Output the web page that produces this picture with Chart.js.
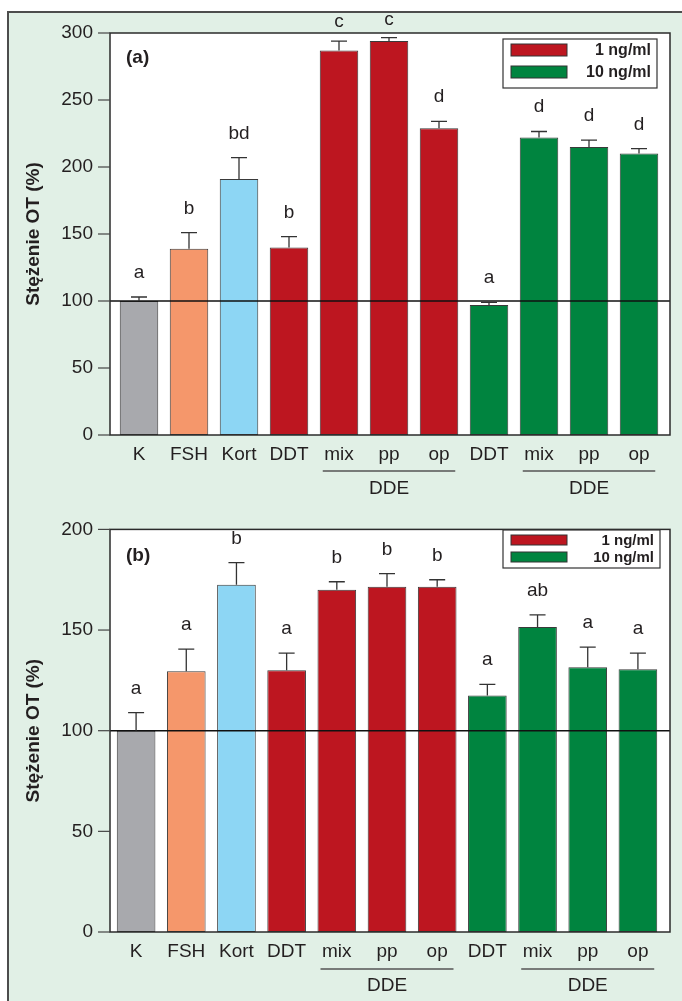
<!DOCTYPE html>
<html>
<head>
<meta charset="utf-8">
<script src="https://cdn.jsdelivr.net/npm/chart.js@4"></script>
<style>
  html, body { margin: 0; padding: 0; background: #ffffff; }
  #page { position: relative; width: 682px; height: 1001px; overflow: hidden; }
  #panelBg { position: absolute; left: 7px; top: 11px; right: -4px; bottom: -4px;
             background: #E1F0E6; border-left: 2px solid #4d4d4d; border-top: 2px solid #4d4d4d; }
  canvas { position: absolute; left: 0; }
  #chartA { top: 0; }
  #chartB { top: 500px; }
</style>
</head>
<body>
<div id="page">
  <div id="panelBg"></div>
  <canvas id="chartA" width="682" height="500"></canvas>
  <canvas id="chartB" width="682" height="501"></canvas>
</div>
<script>
// Treatments on the x axis
const categories = ['K', 'FSH', 'Kort', 'DDT', 'mix', 'pp', 'op', 'DDT', 'mix', 'pp', 'op'];
// Colour group of each treatment: control, FSH, cortisol, 1 ng/ml, 10 ng/ml
const barGroups = ['ctrl', 'fsh', 'kort', 'low', 'low', 'low', 'low', 'high', 'high', 'high', 'high'];
const legendLabels = ['1 ng/ml', '10 ng/ml'];
const groupLabel = 'DDE';
const yTitle = 'Stężenie OT (%)';

// Panel (a)
const valuesA = [100, 139, 191, 140, 287, 294, 229, 97, 222, 215, 210];
const errorsA = [3, 12, 16, 8, 7, 2.5, 5, 2, 4.5, 5, 3.7];
const lettersA = ['a', 'b', 'bd', 'b', 'c', 'c', 'd', 'a', 'd', 'd', 'd'];
const ticksA = [0, 50, 100, 150, 200, 250, 300];

// Panel (b)
const valuesB = [100, 129.5, 172.5, 130, 170, 171.5, 171.5, 117.5, 151.5, 131.5, 130.5];
const errorsB = [9, 11, 11, 8.5, 4, 6.5, 3.5, 5.5, 6, 10, 8];
const lettersB = ['a', 'a', 'b', 'a', 'b', 'b', 'b', 'a', 'ab', 'a', 'a'];
const ticksB = [0, 50, 100, 150, 200];

const referenceLevel = 100;

const palette = {
  ctrl: '#A8A9AD',
  fsh: '#F5976B',
  kort: '#8DD6F4',
  low: '#BD1620',
  high: '#00843F'
};

const FONT = '"Liberation Sans Narrow", "Liberation Sans", Arial, sans-serif';
const BOLD = '"Liberation Sans", Arial, sans-serif';
const INK = '#231F20';

// Draws the framed plot box, reference line, error bars, letters,
// DDE group brackets, legend, panel tag and y-axis title.
const panelPlugin = {
  id: 'panelDecor',
  beforeDraw(chart, args, o) {
    const { ctx, chartArea: a } = chart;
    ctx.save();
    ctx.fillStyle = '#ffffff';
    ctx.fillRect(o.frameLeft, a.top, o.frameRight - o.frameLeft, a.bottom - a.top);
    ctx.restore();
  },
  afterDatasetsDraw(chart, args, o) {
    const { ctx, chartArea: a } = chart;
    const y = chart.scales.y;
    const meta = chart.getDatasetMeta(0);
    ctx.save();

    // reference line at 100 %
    ctx.strokeStyle = '#111';
    ctx.lineWidth = 1.6;
    ctx.beginPath();
    const yRef = y.getPixelForValue(referenceLevel);
    ctx.moveTo(o.frameLeft, yRef);
    ctx.lineTo(o.frameRight, yRef);
    ctx.stroke();

    // error bars and significance letters
    ctx.strokeStyle = '#333';
    ctx.lineWidth = 1.3;
    ctx.fillStyle = INK;
    ctx.font = '19px ' + FONT;
    ctx.textAlign = 'center';
    ctx.textBaseline = 'alphabetic';
    o.values.forEach((v, i) => {
      const cx = meta.data[i].x;
      const yTop = y.getPixelForValue(v);
      const yErr = y.getPixelForValue(v + o.errors[i]);
      ctx.beginPath();
      ctx.moveTo(cx, yTop);
      ctx.lineTo(cx, yErr);
      ctx.moveTo(cx - 8, yErr);
      ctx.lineTo(cx + 8, yErr);
      ctx.stroke();
      const base = Math.max(yErr - 19, o.letterMin);
      ctx.fillText(o.letters[i], cx, Math.min(base, yErr - 13));
    });

    // plot frame
    ctx.strokeStyle = '#2b2b2b';
    ctx.lineWidth = 1.5;
    ctx.strokeRect(o.frameLeft, a.top, o.frameRight - o.frameLeft, a.bottom - a.top);

    // y tick marks outside the frame
    ctx.strokeStyle = '#444';
    ctx.lineWidth = 1.2;
    o.ticks.forEach(t => {
      const ty = y.getPixelForValue(t);
      ctx.beginPath();
      ctx.moveTo(o.frameLeft - 12, ty);
      ctx.lineTo(o.frameLeft, ty);
      ctx.stroke();
    });

    // DDE brackets under the mix/pp/op groups
    const bw = meta.data[0].width;
    [[4, 6], [8, 10]].forEach(([s, e]) => {
      const x1 = meta.data[s].x - bw / 2 + 3;
      const x2 = meta.data[e].x + bw / 2 - 3;
      const ly = a.bottom + o.bracketOffset;
      ctx.strokeStyle = '#555';
      ctx.lineWidth = 1.5;
      ctx.beginPath();
      ctx.moveTo(x1, ly);
      ctx.lineTo(x2, ly);
      ctx.stroke();
      ctx.fillStyle = INK;
      ctx.font = '19px ' + FONT;
      ctx.textAlign = 'center';
      ctx.textBaseline = 'middle';
      ctx.fillText(groupLabel, (x1 + x2) / 2, a.bottom + o.groupTextOffset);
    });

    // legend
    const L = o.legend;
    ctx.fillStyle = '#ffffff';
    ctx.fillRect(L.x, L.y, L.w, L.h);
    ctx.strokeStyle = '#333';
    ctx.lineWidth = 1.2;
    ctx.strokeRect(L.x, L.y, L.w, L.h);
    ctx.font = 'bold ' + L.font + 'px ' + BOLD;
    ctx.textAlign = 'right';
    ctx.textBaseline = 'middle';
    [palette.low, palette.high].forEach((c, i) => {
      const ry = L.y + L.rowTop + i * L.rowGap;
      ctx.fillStyle = c;
      ctx.fillRect(L.x + 8, ry - L.swH / 2, 56, L.swH);
      ctx.strokeStyle = '#333';
      ctx.lineWidth = 1;
      ctx.strokeRect(L.x + 8, ry - L.swH / 2, 56, L.swH);
      ctx.fillStyle = INK;
      ctx.fillText(legendLabels[i], L.x + L.w - 6, ry + 1);
    });

    // panel tag
    ctx.font = 'bold 19px ' + BOLD;
    ctx.textAlign = 'left';
    ctx.textBaseline = 'middle';
    ctx.fillStyle = INK;
    ctx.fillText(o.tag, o.frameLeft + 16, a.top + o.tagOffset);

    // y-axis title
    ctx.translate(34, (a.top + a.bottom) / 2);
    ctx.rotate(-Math.PI / 2);
    ctx.textAlign = 'center';
    ctx.textBaseline = 'middle';
    ctx.font = 'bold 19px ' + BOLD;
    ctx.fillText(yTitle, 0, 0);
    ctx.restore();
  }
};

function makePanel(id, values, errors, letters, ticks, cfg) {
  return new Chart(document.getElementById(id), {
    type: 'bar',
    data: {
      labels: categories,
      datasets: [{
        data: values,
        backgroundColor: barGroups.map(g => palette[g]),
        borderColor: '#3a3a3a',
        borderWidth: 1,
        borderSkipped: false,
        barPercentage: 0.77,
        categoryPercentage: 1
      }]
    },
    options: {
      responsive: false,
      animation: false,
      devicePixelRatio: 1,
      layout: { padding: { top: cfg.padTop, right: cfg.padRight, left: 0, bottom: 0 } },
      plugins: {
        legend: { display: false },
        tooltip: { enabled: false },
        panelDecor: {
          values, errors, letters, ticks,
          frameLeft: 110, frameRight: 670,
          bracketOffset: cfg.bracketOffset,
          groupTextOffset: cfg.groupTextOffset,
          legend: cfg.legend,
          tag: cfg.tag,
          tagOffset: cfg.tagOffset,
          letterMin: cfg.letterMin
        }
      },
      scales: {
        x: {
          offset: true,
          grid: { display: false, drawTicks: false },
          border: { display: false },
          ticks: { color: INK, padding: 8, font: { family: FONT, size: 19 }, maxRotation: 0, autoSkip: false },
          afterFit(s) { s.height = cfg.xHeight; }
        },
        y: {
          min: 0, max: cfg.yMax,
          grid: { display: false, drawTicks: false },
          border: { display: false },
          afterBuildTicks(s) { s.ticks = ticks.map(v => ({ value: v })); },
          ticks: { color: INK, padding: cfg.yPad, font: { family: FONT, size: 19 } },
          afterFit(s) { s.width = cfg.yWidth; }
        }
      }
    },
    plugins: [panelPlugin]
  });
}

makePanel('chartA', valuesA, errorsA, lettersA, ticksA, {
  padTop: 33, padRight: 18, xHeight: 65, yWidth: 114, yPad: 21, yMax: 300,
  bracketOffset: 36, groupTextOffset: 54, letterMin: 27,
  legend: { x: 503, y: 39, w: 154, h: 49, rowTop: 11, rowGap: 22, swH: 12, font: 16 },
  tag: '(a)', tagOffset: 25
});

makePanel('chartB', valuesB, errorsB, lettersB, ticksB, {
  padTop: 27, padRight: 19, xHeight: 69, yWidth: 111, yPad: 18, yMax: 200,
  bracketOffset: 37, groupTextOffset: 54, letterMin: 0,
  legend: { x: 503, y: 30, w: 157, h: 38, rowTop: 10, rowGap: 17, swH: 10, font: 15 },
  tag: '(b)', tagOffset: 26
});
</script>
</body>
</html>
